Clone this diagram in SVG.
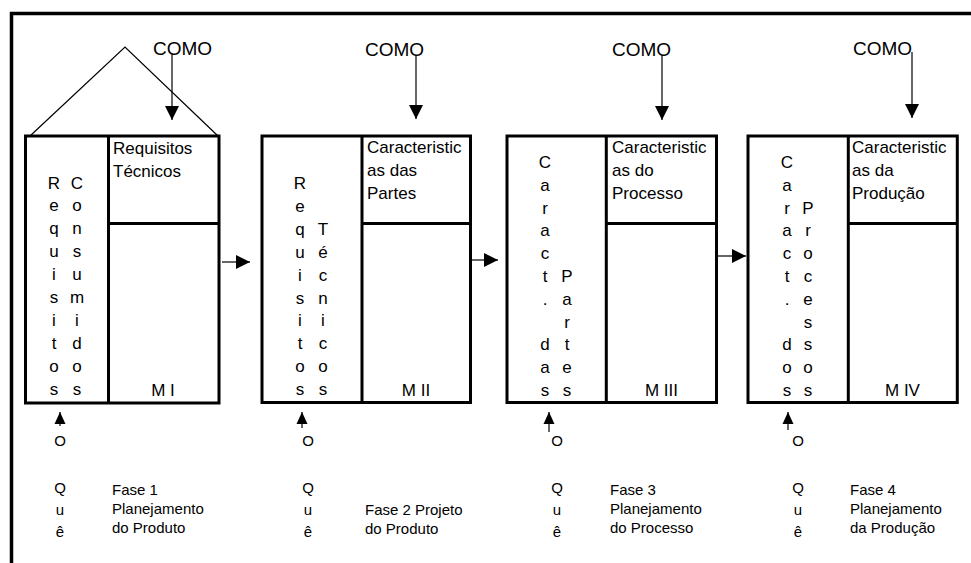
<svg xmlns="http://www.w3.org/2000/svg" width="971" height="563" viewBox="0 0 971 563">
  <style>
    text { font-family: "Liberation Sans", Arial, sans-serif; fill: #000; }
    .como { font-size: 19px; }
    .head { font-size: 17px; }
    .col { font-size: 17px; text-anchor: middle; }
    .mlab { font-size: 17px; text-anchor: middle; }
    .low { font-size: 15px; }
    .lowc { font-size: 15px; text-anchor: middle; }
    .box { fill: #fff; stroke: #000; stroke-width: 3; }
    .div { stroke: #000; stroke-width: 3; fill: none; }
    .thin { stroke: #000; stroke-width: 1.2; fill: none; }
  </style>
  <defs>
    <marker id="head" markerUnits="userSpaceOnUse" markerWidth="14" markerHeight="14" refX="14" refY="7" orient="auto">
      <path d="M0,0 L14,7 L0,14 z" fill="#000"/>
    </marker>
    <marker id="headSmall" markerUnits="userSpaceOnUse" markerWidth="12" markerHeight="12" refX="12" refY="6" orient="auto">
      <path d="M0,0.5 L12,6 L0,11.5 z" fill="#000"/>
    </marker>
  </defs>

  <rect width="971" height="563" fill="#fff"/>

  <!-- page frame -->
  <path d="M11.5,563 V13.5 H971" fill="none" stroke="#000" stroke-width="3.5"/>

  <!-- roof over the first matrix -->
  <polyline class="thin" points="30,136 125,47 218,136"/>

  <!-- Matrix I -->
  <g id="matrix-1">
    <rect class="box" x="25.5" y="136" width="193.5" height="267"/>
    <line class="div" x1="108.5" y1="136" x2="108.5" y2="403"/>
    <line class="div" x1="108.5" y1="223.5" x2="219" y2="223.5"/>
    <text class="head" x="113" y="154">Requisitos</text>
    <text class="head" x="113" y="177">Técnicos</text>
    <g class="col">
      <text x="54" y="188.5">R</text><text x="54" y="211.4">e</text><text x="54" y="234.3">q</text><text x="54" y="257.2">u</text><text x="54" y="280.1">i</text>
      <text x="54" y="303">s</text><text x="54" y="325.9">i</text><text x="54" y="348.8">t</text><text x="54" y="371.7">o</text><text x="54" y="394.6">s</text>
      <text x="77" y="188.5">C</text><text x="77" y="211.4">o</text><text x="77" y="234.3">n</text><text x="77" y="257.2">s</text><text x="77" y="280.1">u</text>
      <text x="77" y="303">m</text><text x="77" y="325.9">i</text><text x="77" y="348.8">d</text><text x="77" y="371.7">o</text><text x="77" y="394.6">s</text>
    </g>
    <text class="mlab" x="163" y="396">M I</text>
  </g>

  <!-- Matrix II -->
  <g id="matrix-2">
    <rect class="box" x="262" y="136" width="208.5" height="266.5"/>
    <line class="div" x1="362" y1="136" x2="362" y2="402.5"/>
    <line class="div" x1="362" y1="223.5" x2="470.5" y2="223.5"/>
    <text class="head" x="367" y="153">Caracteristic</text>
    <text class="head" x="367" y="176">as das</text>
    <text class="head" x="367" y="199">Partes</text>
    <g class="col">
      <text x="300" y="189">R</text><text x="300" y="211.9">e</text><text x="300" y="234.8">q</text><text x="300" y="257.7">u</text><text x="300" y="280.6">i</text>
      <text x="300" y="303.5">s</text><text x="300" y="326.4">i</text><text x="300" y="349.3">t</text><text x="300" y="372.2">o</text><text x="300" y="395.1">s</text>
      <text x="323" y="234.8">T</text><text x="323" y="257.7">é</text><text x="323" y="280.6">c</text>
      <text x="323" y="303.5">n</text><text x="323" y="326.4">i</text><text x="323" y="349.3">c</text><text x="323" y="372.2">o</text><text x="323" y="395.1">s</text>
    </g>
    <text class="mlab" x="416" y="396">M II</text>
  </g>

  <!-- Matrix III -->
  <g id="matrix-3">
    <rect class="box" x="507" y="136" width="209.5" height="266.5"/>
    <line class="div" x1="606.3" y1="136" x2="606.3" y2="402.5"/>
    <line class="div" x1="606.3" y1="223.5" x2="716.5" y2="223.5"/>
    <text class="head" x="612" y="153">Caracteristic</text>
    <text class="head" x="612" y="176">as do</text>
    <text class="head" x="612" y="199">Processo</text>
    <g class="col">
      <text x="545" y="168">C</text><text x="545" y="190.8">a</text><text x="545" y="213.6">r</text><text x="545" y="236.4">a</text><text x="545" y="259.2">c</text>
      <text x="545" y="282">t</text><text x="545" y="304.8">.</text><text x="545" y="350.4">d</text><text x="545" y="373.2">a</text><text x="545" y="396">s</text>
      <text x="567" y="282">P</text><text x="567" y="304.8">a</text><text x="567" y="327.6">r</text><text x="567" y="350.4">t</text><text x="567" y="373.2">e</text><text x="567" y="396">s</text>
    </g>
    <text class="mlab" x="661.5" y="396">M III</text>
  </g>

  <!-- Matrix IV -->
  <g id="matrix-4">
    <rect class="box" x="748" y="136" width="209.3" height="266.5"/>
    <line class="div" x1="848.3" y1="136" x2="848.3" y2="402.5"/>
    <line class="div" x1="848.3" y1="223.5" x2="957.3" y2="223.5"/>
    <text class="head" x="852" y="153">Caracteristic</text>
    <text class="head" x="852" y="176">as da</text>
    <text class="head" x="852" y="199">Produção</text>
    <g class="col">
      <text x="787" y="168">C</text><text x="787" y="190.8">a</text><text x="787" y="213.6">r</text><text x="787" y="236.4">a</text><text x="787" y="259.2">c</text>
      <text x="787" y="282">t</text><text x="787" y="304.8">.</text><text x="787" y="350.4">d</text><text x="787" y="373.2">o</text><text x="787" y="396">s</text>
      <text x="808" y="213.6">P</text><text x="808" y="236.4">r</text><text x="808" y="259.2">o</text><text x="808" y="282">c</text><text x="808" y="304.8">e</text>
      <text x="808" y="327.6">s</text><text x="808" y="350.4">s</text><text x="808" y="373.2">o</text><text x="808" y="396">s</text>
    </g>
    <text class="mlab" x="902.5" y="396">M IV</text>
  </g>

  <!-- "COMO" labels -->
  <g id="como-labels">
    <text class="como" x="153" y="55">COMO</text>
    <text class="como" x="365" y="56">COMO</text>
    <text class="como" x="612" y="56">COMO</text>
    <text class="como" x="853" y="55">COMO</text>
  </g>

  <!-- "O Quê" labels -->
  <g id="oque-labels">
    <text class="lowc" x="60" y="446">O</text>
    <text class="lowc" x="60" y="493">Q</text><text class="lowc" x="60" y="515">u</text><text class="lowc" x="60" y="537">ê</text>
    <text class="lowc" x="308" y="446">O</text>
    <text class="lowc" x="308" y="493">Q</text><text class="lowc" x="308" y="515">u</text><text class="lowc" x="308" y="537">ê</text>
    <text class="lowc" x="557" y="446">O</text>
    <text class="lowc" x="557" y="493">Q</text><text class="lowc" x="557" y="515">u</text><text class="lowc" x="557" y="537">ê</text>
    <text class="lowc" x="798" y="446">O</text>
    <text class="lowc" x="798" y="493">Q</text><text class="lowc" x="798" y="515">u</text><text class="lowc" x="798" y="537">ê</text>
  </g>

  <!-- phase captions -->
  <g id="phase-1">
    <text class="low" x="112" y="495">Fase 1</text>
    <text class="low" x="112" y="514">Planejamento</text>
    <text class="low" x="112" y="533">do Produto</text>
  </g>
  <g id="phase-2">
    <text class="low" x="365" y="515">Fase 2 Projeto</text>
    <text class="low" x="365" y="534">do Produto</text>
  </g>
  <g id="phase-3">
    <text class="low" x="610" y="495">Fase 3</text>
    <text class="low" x="610" y="514">Planejamento</text>
    <text class="low" x="610" y="533">do Processo</text>
  </g>
  <g id="phase-4">
    <text class="low" x="850" y="495">Fase 4</text>
    <text class="low" x="850" y="514">Planejamento</text>
    <text class="low" x="850" y="533">da Produção</text>
  </g>

  <!-- connectors -->
  <g id="connectors" class="thin">
    <line x1="172" y1="53" x2="172" y2="120" marker-end="url(#head)"/>
    <line x1="416" y1="55" x2="416" y2="119" marker-end="url(#head)"/>
    <line x1="662" y1="55" x2="662" y2="120" marker-end="url(#head)"/>
    <line x1="912" y1="52" x2="912" y2="118" marker-end="url(#head)"/>

    <line x1="222" y1="262" x2="250" y2="262" marker-end="url(#head)"/>
    <line x1="472" y1="260" x2="498" y2="260" marker-end="url(#head)"/>
    <line x1="718" y1="256" x2="746" y2="256" marker-end="url(#head)"/>

    <line x1="60" y1="426" x2="60" y2="412" marker-end="url(#headSmall)"/>
    <line x1="302" y1="428" x2="302" y2="412" marker-end="url(#headSmall)"/>
    <line x1="549" y1="432" x2="549" y2="412" marker-end="url(#headSmall)"/>
    <line x1="788" y1="430" x2="788" y2="412" marker-end="url(#headSmall)"/>
  </g>
</svg>
